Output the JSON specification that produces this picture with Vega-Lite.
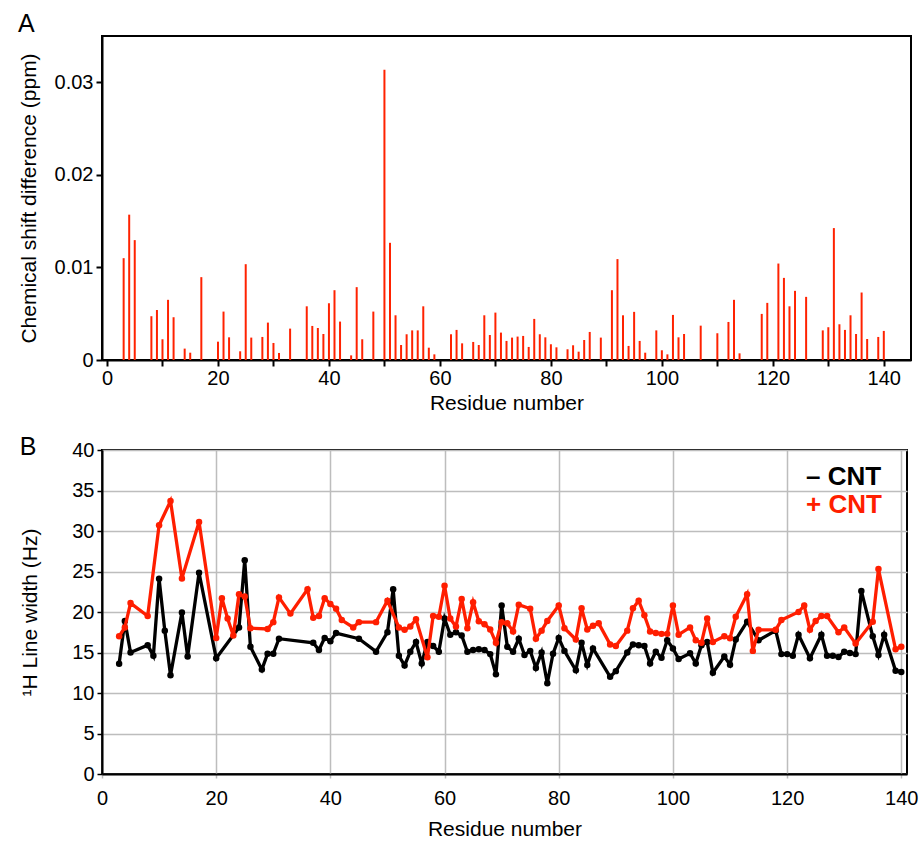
{
  "$schema": "https://vega.github.io/schema/vega-lite/v6.json",
  "background": "white",
  "padding": {"left": 17, "top": 11, "right": 5, "bottom": 5},
  "spacing": 20,
  "resolve": {"legend": {"color": "independent"}, "scale": {"color": "independent"}},
  "config": {
    "font": "Liberation Sans",
    "view": {"stroke": "black", "strokeWidth": 2},
    "axis": {
      "labelFontSize": 20,
      "titleFontSize": 21,
      "titleFontWeight": "normal",
      "labelColor": "black",
      "titleColor": "black",
      "domainColor": "black",
      "domainWidth": 2,
      "tickColor": "black",
      "tickWidth": 2,
      "labelFont": "Liberation Sans",
      "titleFont": "Liberation Sans"
    }
  },
  "datasets": {
    "bars": [
      {"res": 3, "csd": 0.011}, {"res": 4, "csd": 0.0157}, {"res": 5, "csd": 0.01295},
      {"res": 8, "csd": 0.00473}, {"res": 9, "csd": 0.0054}, {"res": 10, "csd": 0.00224},
      {"res": 11, "csd": 0.0065}, {"res": 12, "csd": 0.00462}, {"res": 14, "csd": 0.00123},
      {"res": 15, "csd": 0.00079}, {"res": 17, "csd": 0.00895}, {"res": 20, "csd": 0.00198},
      {"res": 21, "csd": 0.00523}, {"res": 22, "csd": 0.00245}, {"res": 24, "csd": 0.00094},
      {"res": 25, "csd": 0.01035}, {"res": 26, "csd": 0.00242}, {"res": 28, "csd": 0.00249},
      {"res": 29, "csd": 0.00404}, {"res": 30, "csd": 0.00184}, {"res": 31, "csd": 0.00076},
      {"res": 33, "csd": 0.00339}, {"res": 36, "csd": 0.0058}, {"res": 37, "csd": 0.00368},
      {"res": 38, "csd": 0.00346}, {"res": 39, "csd": 0.00281}, {"res": 40, "csd": 0.00613},
      {"res": 41, "csd": 0.00754}, {"res": 42, "csd": 0.00415}, {"res": 44, "csd": 0.0005},
      {"res": 45, "csd": 0.00787}, {"res": 46, "csd": 0.00224}, {"res": 48, "csd": 0.00523},
      {"res": 50, "csd": 0.03135}, {"res": 51, "csd": 0.01266}, {"res": 52, "csd": 0.00483},
      {"res": 53, "csd": 0.00162}, {"res": 54, "csd": 0.00278}, {"res": 55, "csd": 0.0032},
      {"res": 56, "csd": 0.0032}, {"res": 57, "csd": 0.0058}, {"res": 58, "csd": 0.00133},
      {"res": 59, "csd": 0.00061}, {"res": 62, "csd": 0.00278}, {"res": 63, "csd": 0.00325},
      {"res": 64, "csd": 0.0018}, {"res": 66, "csd": 0.00195}, {"res": 67, "csd": 0.00162},
      {"res": 68, "csd": 0.00483}, {"res": 69, "csd": 0.0027}, {"res": 70, "csd": 0.00512},
      {"res": 71, "csd": 0.00296}, {"res": 72, "csd": 0.00206}, {"res": 73, "csd": 0.00242},
      {"res": 74, "csd": 0.00253}, {"res": 75, "csd": 0.0026}, {"res": 76, "csd": 0.00141},
      {"res": 77, "csd": 0.00444}, {"res": 78, "csd": 0.00278}, {"res": 79, "csd": 0.00245},
      {"res": 80, "csd": 0.0017}, {"res": 81, "csd": 0.00137}, {"res": 83, "csd": 0.00116},
      {"res": 84, "csd": 0.00159}, {"res": 85, "csd": 0.0009}, {"res": 86, "csd": 0.00216},
      {"res": 87, "csd": 0.00303}, {"res": 89, "csd": 0.00242}, {"res": 91, "csd": 0.00754},
      {"res": 92, "csd": 0.0109}, {"res": 93, "csd": 0.00483}, {"res": 94, "csd": 0.00152},
      {"res": 95, "csd": 0.0052}, {"res": 96, "csd": 0.00206}, {"res": 97, "csd": 0.00079},
      {"res": 99, "csd": 0.0032}, {"res": 100, "csd": 0.00105}, {"res": 101, "csd": 0.00061},
      {"res": 102, "csd": 0.00487}, {"res": 103, "csd": 0.00245}, {"res": 104, "csd": 0.00281},
      {"res": 107, "csd": 0.00371}, {"res": 110, "csd": 0.00289}, {"res": 112, "csd": 0.00411},
      {"res": 113, "csd": 0.0065}, {"res": 114, "csd": 0.00072}, {"res": 118, "csd": 0.00498},
      {"res": 119, "csd": 0.00617}, {"res": 121, "csd": 0.01042}, {"res": 122, "csd": 0.00887},
      {"res": 123, "csd": 0.0058}, {"res": 124, "csd": 0.00747}, {"res": 126, "csd": 0.00682},
      {"res": 129, "csd": 0.0032}, {"res": 130, "csd": 0.00354}, {"res": 131, "csd": 0.01425},
      {"res": 132, "csd": 0.00386}, {"res": 133, "csd": 0.00325}, {"res": 134, "csd": 0.00483},
      {"res": 135, "csd": 0.00281}, {"res": 136, "csd": 0.00729}, {"res": 137, "csd": 0.00227},
      {"res": 139, "csd": 0.00249}, {"res": 140, "csd": 0.00314}
    ],
    "lw": [
      {"series": "– CNT", "res": 3, "lw": 13.6}, {"series": "– CNT", "res": 4, "lw": 18.9},
      {"series": "– CNT", "res": 5, "lw": 15.0}, {"series": "– CNT", "res": 8, "lw": 15.9},
      {"series": "– CNT", "res": 9, "lw": 14.6}, {"series": "– CNT", "res": 10, "lw": 24.1},
      {"series": "– CNT", "res": 11, "lw": 17.7}, {"series": "– CNT", "res": 12, "lw": 12.2},
      {"series": "– CNT", "res": 14, "lw": 19.95}, {"series": "– CNT", "res": 15, "lw": 14.5},
      {"series": "– CNT", "res": 17, "lw": 24.85}, {"series": "– CNT", "res": 20, "lw": 14.3},
      {"series": "– CNT", "res": 24, "lw": 18.1}, {"series": "– CNT", "res": 25, "lw": 26.4},
      {"series": "– CNT", "res": 26, "lw": 15.7}, {"series": "– CNT", "res": 28, "lw": 12.9},
      {"series": "– CNT", "res": 29, "lw": 14.85}, {"series": "– CNT", "res": 30, "lw": 14.85},
      {"series": "– CNT", "res": 31, "lw": 16.7}, {"series": "– CNT", "res": 37, "lw": 16.2},
      {"series": "– CNT", "res": 38, "lw": 15.3}, {"series": "– CNT", "res": 39, "lw": 16.8},
      {"series": "– CNT", "res": 40, "lw": 16.4}, {"series": "– CNT", "res": 41, "lw": 17.4},
      {"series": "– CNT", "res": 45, "lw": 16.7}, {"series": "– CNT", "res": 48, "lw": 15.1},
      {"series": "– CNT", "res": 50, "lw": 17.5}, {"series": "– CNT", "res": 51, "lw": 22.8},
      {"series": "– CNT", "res": 52, "lw": 14.6}, {"series": "– CNT", "res": 53, "lw": 13.4},
      {"series": "– CNT", "res": 54, "lw": 15.1}, {"series": "– CNT", "res": 55, "lw": 16.3},
      {"series": "– CNT", "res": 56, "lw": 13.65}, {"series": "– CNT", "res": 57, "lw": 16.3},
      {"series": "– CNT", "res": 58, "lw": 15.8}, {"series": "– CNT", "res": 59, "lw": 15.1},
      {"series": "– CNT", "res": 60, "lw": 19.2}, {"series": "– CNT", "res": 61, "lw": 17.2},
      {"series": "– CNT", "res": 62, "lw": 17.5}, {"series": "– CNT", "res": 63, "lw": 17.1},
      {"series": "– CNT", "res": 64, "lw": 15.1}, {"series": "– CNT", "res": 65, "lw": 15.3},
      {"series": "– CNT", "res": 66, "lw": 15.4}, {"series": "– CNT", "res": 67, "lw": 15.3},
      {"series": "– CNT", "res": 68, "lw": 14.8}, {"series": "– CNT", "res": 69, "lw": 12.3},
      {"series": "– CNT", "res": 70, "lw": 20.8}, {"series": "– CNT", "res": 71, "lw": 15.7},
      {"series": "– CNT", "res": 72, "lw": 15.1}, {"series": "– CNT", "res": 73, "lw": 16.7},
      {"series": "– CNT", "res": 74, "lw": 14.7}, {"series": "– CNT", "res": 75, "lw": 15.2},
      {"series": "– CNT", "res": 76, "lw": 13.1}, {"series": "– CNT", "res": 77, "lw": 15.0},
      {"series": "– CNT", "res": 78, "lw": 11.2}, {"series": "– CNT", "res": 79, "lw": 14.85},
      {"series": "– CNT", "res": 80, "lw": 16.8}, {"series": "– CNT", "res": 81, "lw": 15.2},
      {"series": "– CNT", "res": 83, "lw": 12.8}, {"series": "– CNT", "res": 84, "lw": 16.2},
      {"series": "– CNT", "res": 85, "lw": 13.45}, {"series": "– CNT", "res": 86, "lw": 15.5},
      {"series": "– CNT", "res": 89, "lw": 12.0}, {"series": "– CNT", "res": 90, "lw": 12.7},
      {"series": "– CNT", "res": 92, "lw": 15.0}, {"series": "– CNT", "res": 93, "lw": 16.0},
      {"series": "– CNT", "res": 94, "lw": 15.9}, {"series": "– CNT", "res": 95, "lw": 15.8},
      {"series": "– CNT", "res": 96, "lw": 13.65}, {"series": "– CNT", "res": 97, "lw": 15.1},
      {"series": "– CNT", "res": 98, "lw": 14.35}, {"series": "– CNT", "res": 99, "lw": 16.5},
      {"series": "– CNT", "res": 100, "lw": 15.5}, {"series": "– CNT", "res": 101, "lw": 14.2},
      {"series": "– CNT", "res": 103, "lw": 14.9}, {"series": "– CNT", "res": 104, "lw": 13.65},
      {"series": "– CNT", "res": 105, "lw": 15.9}, {"series": "– CNT", "res": 106, "lw": 16.3},
      {"series": "– CNT", "res": 107, "lw": 12.5}, {"series": "– CNT", "res": 109, "lw": 14.5},
      {"series": "– CNT", "res": 110, "lw": 13.5}, {"series": "– CNT", "res": 111, "lw": 16.6},
      {"series": "– CNT", "res": 113, "lw": 18.8}, {"series": "– CNT", "res": 115, "lw": 16.5},
      {"series": "– CNT", "res": 118, "lw": 17.7}, {"series": "– CNT", "res": 119, "lw": 14.8},
      {"series": "– CNT", "res": 120, "lw": 14.8}, {"series": "– CNT", "res": 121, "lw": 14.6},
      {"series": "– CNT", "res": 122, "lw": 17.2}, {"series": "– CNT", "res": 124, "lw": 14.3},
      {"series": "– CNT", "res": 126, "lw": 17.2}, {"series": "– CNT", "res": 127, "lw": 14.6},
      {"series": "– CNT", "res": 128, "lw": 14.6}, {"series": "– CNT", "res": 129, "lw": 14.45},
      {"series": "– CNT", "res": 130, "lw": 15.1}, {"series": "– CNT", "res": 131, "lw": 14.95},
      {"series": "– CNT", "res": 132, "lw": 14.8}, {"series": "– CNT", "res": 133, "lw": 22.6},
      {"series": "– CNT", "res": 135, "lw": 17.0}, {"series": "– CNT", "res": 136, "lw": 14.7},
      {"series": "– CNT", "res": 137, "lw": 17.2}, {"series": "– CNT", "res": 139, "lw": 12.75},
      {"series": "– CNT", "res": 140, "lw": 12.6},
      {"series": "+ CNT", "res": 3, "lw": 17.0}, {"series": "+ CNT", "res": 4, "lw": 18.1},
      {"series": "+ CNT", "res": 5, "lw": 21.1}, {"series": "+ CNT", "res": 8, "lw": 19.5},
      {"series": "+ CNT", "res": 10, "lw": 30.7}, {"series": "+ CNT", "res": 12, "lw": 33.7},
      {"series": "+ CNT", "res": 14, "lw": 24.15}, {"series": "+ CNT", "res": 17, "lw": 31.1},
      {"series": "+ CNT", "res": 20, "lw": 16.8}, {"series": "+ CNT", "res": 21, "lw": 21.7},
      {"series": "+ CNT", "res": 22, "lw": 19.2}, {"series": "+ CNT", "res": 23, "lw": 17.1},
      {"series": "+ CNT", "res": 24, "lw": 22.2}, {"series": "+ CNT", "res": 25, "lw": 21.9},
      {"series": "+ CNT", "res": 26, "lw": 18.0}, {"series": "+ CNT", "res": 29, "lw": 17.9},
      {"series": "+ CNT", "res": 30, "lw": 18.75}, {"series": "+ CNT", "res": 31, "lw": 21.8},
      {"series": "+ CNT", "res": 33, "lw": 19.8}, {"series": "+ CNT", "res": 36, "lw": 22.8},
      {"series": "+ CNT", "res": 37, "lw": 19.3}, {"series": "+ CNT", "res": 38, "lw": 19.5},
      {"series": "+ CNT", "res": 39, "lw": 21.7}, {"series": "+ CNT", "res": 40, "lw": 21.0},
      {"series": "+ CNT", "res": 41, "lw": 20.4}, {"series": "+ CNT", "res": 42, "lw": 19.0},
      {"series": "+ CNT", "res": 44, "lw": 18.1}, {"series": "+ CNT", "res": 45, "lw": 18.75},
      {"series": "+ CNT", "res": 48, "lw": 18.75}, {"series": "+ CNT", "res": 50, "lw": 21.4},
      {"series": "+ CNT", "res": 52, "lw": 18.1}, {"series": "+ CNT", "res": 53, "lw": 17.8},
      {"series": "+ CNT", "res": 54, "lw": 18.2}, {"series": "+ CNT", "res": 55, "lw": 19.1},
      {"series": "+ CNT", "res": 57, "lw": 14.4}, {"series": "+ CNT", "res": 58, "lw": 19.5},
      {"series": "+ CNT", "res": 59, "lw": 19.4}, {"series": "+ CNT", "res": 60, "lw": 23.25},
      {"series": "+ CNT", "res": 61, "lw": 19.2}, {"series": "+ CNT", "res": 62, "lw": 18.2},
      {"series": "+ CNT", "res": 63, "lw": 21.6}, {"series": "+ CNT", "res": 64, "lw": 18.0},
      {"series": "+ CNT", "res": 65, "lw": 21.2}, {"series": "+ CNT", "res": 66, "lw": 18.85},
      {"series": "+ CNT", "res": 67, "lw": 18.5}, {"series": "+ CNT", "res": 68, "lw": 17.85},
      {"series": "+ CNT", "res": 69, "lw": 16.2}, {"series": "+ CNT", "res": 70, "lw": 18.75},
      {"series": "+ CNT", "res": 71, "lw": 18.6}, {"series": "+ CNT", "res": 72, "lw": 17.6},
      {"series": "+ CNT", "res": 73, "lw": 20.9}, {"series": "+ CNT", "res": 75, "lw": 20.4},
      {"series": "+ CNT", "res": 76, "lw": 16.7}, {"series": "+ CNT", "res": 77, "lw": 17.7},
      {"series": "+ CNT", "res": 78, "lw": 18.9}, {"series": "+ CNT", "res": 80, "lw": 20.8},
      {"series": "+ CNT", "res": 81, "lw": 18.0}, {"series": "+ CNT", "res": 83, "lw": 16.6},
      {"series": "+ CNT", "res": 84, "lw": 20.45}, {"series": "+ CNT", "res": 85, "lw": 17.85},
      {"series": "+ CNT", "res": 86, "lw": 18.3}, {"series": "+ CNT", "res": 87, "lw": 18.6},
      {"series": "+ CNT", "res": 89, "lw": 16.0}, {"series": "+ CNT", "res": 90, "lw": 15.8},
      {"series": "+ CNT", "res": 92, "lw": 17.7}, {"series": "+ CNT", "res": 93, "lw": 20.45},
      {"series": "+ CNT", "res": 94, "lw": 21.4}, {"series": "+ CNT", "res": 95, "lw": 19.6},
      {"series": "+ CNT", "res": 96, "lw": 17.6}, {"series": "+ CNT", "res": 97, "lw": 17.4},
      {"series": "+ CNT", "res": 98, "lw": 17.3}, {"series": "+ CNT", "res": 99, "lw": 17.3},
      {"series": "+ CNT", "res": 100, "lw": 20.8}, {"series": "+ CNT", "res": 101, "lw": 17.2},
      {"series": "+ CNT", "res": 103, "lw": 18.1}, {"series": "+ CNT", "res": 104, "lw": 16.5},
      {"series": "+ CNT", "res": 105, "lw": 16.2}, {"series": "+ CNT", "res": 106, "lw": 19.2},
      {"series": "+ CNT", "res": 107, "lw": 16.3}, {"series": "+ CNT", "res": 109, "lw": 17.0},
      {"series": "+ CNT", "res": 110, "lw": 16.75}, {"series": "+ CNT", "res": 111, "lw": 19.4},
      {"series": "+ CNT", "res": 113, "lw": 22.2}, {"series": "+ CNT", "res": 114, "lw": 15.2},
      {"series": "+ CNT", "res": 115, "lw": 17.8}, {"series": "+ CNT", "res": 118, "lw": 17.8},
      {"series": "+ CNT", "res": 119, "lw": 19.0}, {"series": "+ CNT", "res": 122, "lw": 20.0},
      {"series": "+ CNT", "res": 123, "lw": 20.8}, {"series": "+ CNT", "res": 124, "lw": 17.8},
      {"series": "+ CNT", "res": 125, "lw": 18.9}, {"series": "+ CNT", "res": 126, "lw": 19.5},
      {"series": "+ CNT", "res": 127, "lw": 19.5}, {"series": "+ CNT", "res": 129, "lw": 17.5},
      {"series": "+ CNT", "res": 130, "lw": 18.1}, {"series": "+ CNT", "res": 132, "lw": 16.1},
      {"series": "+ CNT", "res": 135, "lw": 18.8}, {"series": "+ CNT", "res": 136, "lw": 25.3},
      {"series": "+ CNT", "res": 139, "lw": 15.4}, {"series": "+ CNT", "res": 140, "lw": 15.7}
    ]
  },
  "vconcat": [
    {
      "title": {"text": "A", "anchor": "start", "frame": "bounds", "fontSize": 25, "fontWeight": "normal", "font": "Liberation Sans", "color": "black", "baseline": "alphabetic", "offset": -21},
      "width": 809,
      "height": 324,
      "data": {"name": "bars"},
      "mark": {"type": "bar", "orient": "vertical", "size": 2, "color": "#ff2200"},
      "encoding": {
        "x": {
          "field": "res", "type": "quantitative",
          "scale": {"domain": [0, 144], "nice": false},
          "axis": {
            "title": "Residue number",
            "values": [0, 10, 20, 30, 40, 50, 60, 70, 80, 90, 100, 110, 120, 130, 140],
            "labelExpr": "datum.value % 20 === 0 ? datum.label : ''",
            "labelFlush": false, "labelOverlap": false,
            "grid": false, "tickSize": 6, "labelPadding": 2, "titlePadding": 4
          }
        },
        "y": {
          "field": "csd", "type": "quantitative",
          "scale": {"domain": [0, 0.035], "nice": false},
          "axis": {
            "title": "Chemical shift difference (ppm)",
            "values": [0, 0.01, 0.02, 0.03],
            "labelExpr": "datum.value === 0 ? '0' : format(datum.value, '.2f')",
            "grid": false, "tickSize": 6, "labelPadding": 3, "titlePadding": 15
          }
        }
      }
    },
    {
      "title": {"text": "B", "anchor": "start", "frame": "bounds", "fontSize": 25, "fontWeight": "normal", "font": "Liberation Sans", "color": "black", "baseline": "alphabetic", "offset": -40},
      "width": 805,
      "height": 324,
      "data": {"name": "lw"},
      "encoding": {
        "x": {
          "field": "res", "type": "quantitative",
          "scale": {"domain": [0, 141], "nice": false},
          "axis": {
            "title": "Residue number",
            "values": [0, 20, 40, 60, 80, 100, 120, 140],
            "labelFlush": false,
            "grid": true, "gridColor": "#bdbdbd", "gridWidth": 1.5,
            "tickColor": "#bdbdbd", "tickWidth": 1.5, "tickSize": 4,
            "labelPadding": 10, "titlePadding": 10
          }
        },
        "y": {
          "field": "lw", "type": "quantitative",
          "scale": {"domain": [0, 40], "nice": false},
          "axis": {
            "title": "¹H Line width  (Hz)",
            "values": [0, 5, 10, 15, 20, 25, 30, 35, 40],
            "grid": true, "gridColor": "#bdbdbd", "gridWidth": 1.5,
            "tickSize": 5, "tickWidth": 1.5, "labelPadding": 3, "titlePadding": 31
          }
        },
        "color": {
          "field": "series", "type": "nominal",
          "scale": {"domain": ["– CNT", "+ CNT"], "range": ["#000000", "#ff1e00"]},
          "legend": {
            "title": null, "orient": "none", "legendX": 678, "legendY": 14, "padding": 0,
            "labelFontSize": 26, "labelFontWeight": "bold", "labelFont": "Liberation Sans",
            "symbolSize": 0, "symbolStrokeWidth": 0, "symbolOpacity": 0, "labelOffset": 0,
            "rowPadding": 2,
            "encode": {"labels": {"update": {"fill": {"signal": "datum.value === '+ CNT' ? '#ff1e00' : '#000000'"}}}}
          }
        }
      },
      "layer": [
        {
          "transform": [{"filter": "datum.series === '– CNT'"}],
          "mark": {"type": "line", "strokeWidth": 3.3, "point": {"filled": true, "size": 42}}
        },
        {
          "transform": [{"filter": "datum.series === '+ CNT'"}],
          "mark": {"type": "line", "strokeWidth": 3.3, "point": {"filled": true, "size": 42}}
        }
      ]
    }
  ]
}
